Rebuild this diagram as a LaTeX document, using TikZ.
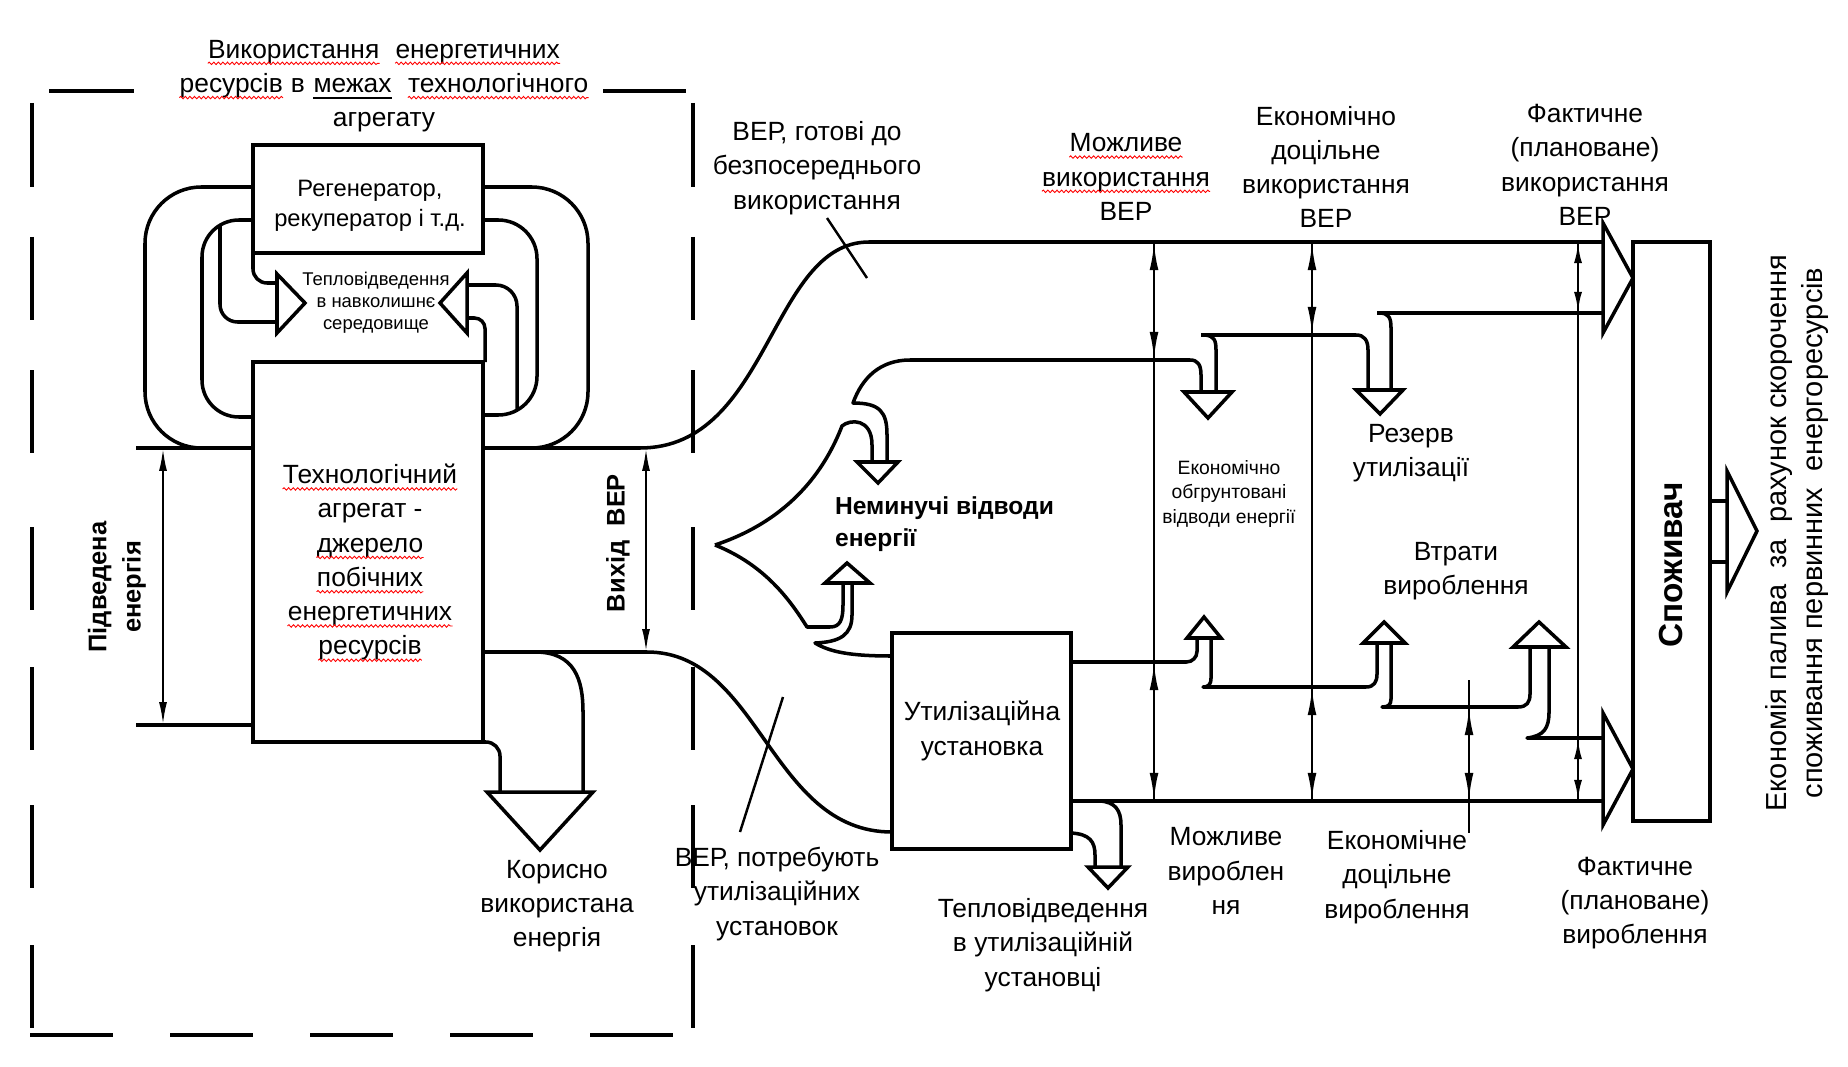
\documentclass[tikz,border=0pt]{standalone}
\usepackage{fontspec}
\setmainfont{Liberation Sans}
\usepackage{xcolor}
\usetikzlibrary{arrows.meta, positioning, decorations.pathmorphing}

\tikzset{
  plainword/.style={shape=rectangle, inner sep=0pt, minimum width=0pt, minimum height=0pt,
    draw=none, fill=none, rotate=0}
}
\newcommand\redwave[1]{\tikz[baseline=(wv.base)]{\node[plainword] (wv) {#1};
  \draw[red, line width=0.5pt, decorate, decoration={snake, amplitude=0.7pt, segment length=2.6pt}]
    ([yshift=-3pt]wv.base west) -- ([yshift=-3pt]wv.base east);}}
\newcommand\darkline[1]{\tikz[baseline=(dl.base)]{\node[plainword] (dl) {#1};
  \draw[line width=1.1pt] ([yshift=-3pt]dl.base west) -- ([yshift=-3pt]dl.base east);}}

\tikzset{
  pipe/.style={line width=2pt, line join=round},
  frameline/.style={line width=2.4pt},
  unitbox/.style={
    rectangle, draw, line width=2.2pt, fill=white,
    inner sep=0pt, align=center
  },
  headblock/.style={draw, line width=2pt, fill=white},
  measline/.style={line width=1.6pt},
  meas/.style={line width=1.6pt, {Latex[length=16pt,width=5pt]}-{Latex[length=16pt,width=5pt]}},
  measshort/.style={line width=1.6pt, {Latex[length=12pt,width=4.5pt]}-{Latex[length=12pt,width=4.5pt]}},
  lbl/.style={align=center, inner sep=1pt, font=\fontsize{15}{19.5}\selectfont},
  smalllbl/.style={align=center, inner sep=1pt, font=\fontsize{10.5}{12.5}\selectfont},
  boldlbl/.style={align=center, inner sep=1pt, font=\fontsize{14.5}{19.5}\selectfont\bfseries}
}

\begin{document}
\begin{tikzpicture}[x=0.02cm, y=-0.02cm]
  \useasboundingbox (0,0) rectangle (1848,1067);

  % boundary of the unit
  \foreach \ya/\yb in {103/187, 237/320, 370/453, 527/610, 667/750, 805/888, 945/1028} {
    \draw[frameline] (32,\ya) -- (32,\yb);
    \draw[frameline] (693,\ya) -- (693,\yb);
  }
  \foreach \xa/\xb in {30/113, 170/253, 310/393, 450/533, 590/673}
    \draw[frameline] (\xa,1035) -- (\xb,1035);
  \draw[frameline] (49,91) -- (134,91);
  \draw[frameline] (603,91) -- (686,91);
  \node[lbl] (title) at (384,86) {\redwave{Використання}\ \ \redwave{енергетичних}\\
    \redwave{ресурсів} в \darkline{межах}\ \ \redwave{технологічного}\\ агрегату};

  % loops round the regenerator
  \draw[pipe, rounded corners=32pt] (253,187) -- (145,187) -- (145,448) -- (253,448);
  \draw[pipe, rounded corners=21pt] (253,220) -- (202,220) -- (202,417) -- (253,417);
  \draw[pipe, rounded corners=32pt] (483,187) -- (588,187) -- (588,448) -- (483,448);
  \draw[pipe, rounded corners=22pt] (483,220) -- (537,220) -- (537,415) -- (483,415);

  \draw[pipe, rounded corners=8pt] (253,253) -- (253,283) -- (277,283);
  \draw[pipe, rounded corners=10pt] (220,226) -- (220,322) -- (277,322);
  \draw[headblock] (277,274) -- (305,303) -- (277,333) -- cycle;
  \draw[pipe, rounded corners=12pt] (517,409) -- (517,285) -- (467,285);
  \draw[pipe, rounded corners=6pt] (485,362) -- (485,318) -- (467,318);
  \draw[headblock] (467,273) -- (440,303) -- (467,333) -- cycle;
  \node[smalllbl] (ambient) at (376,303) {Тепловідведення\\в навколишнє\\середовище};

  \node[unitbox, minimum width=4.6cm, minimum height=2.16cm] (regen) at (368,199) {};
  \node[lbl, font=\fontsize{13.5}{17}\selectfont] (regentext) at (370,206) {Регенератор,\\рекуператор і т.д.};
  \node[unitbox, minimum width=4.6cm, minimum height=7.6cm] (techagg) at (368,552) {};
  \node[lbl] (techtext) at (370,563)
    {\redwave{Технологічний}\\агрегат -\\\redwave{джерело}\\\redwave{побічних}\\
     \redwave{енергетичних}\\\redwave{ресурсів}};

  % supplied energy
  \draw[pipe] (136,448) -- (253,448);
  \draw[pipe] (136,725) -- (253,725);
  \draw[line width=1.3pt, {Latex[length=13pt,width=4.5pt]}-{Latex[length=13pt,width=4.5pt]}] (163,448) -- (163,725);
  \node[boldlbl, rotate=90] (supplied) at (117,587) {Підведена\\енергія};

  % useful energy
  \draw[pipe, rounded corners=8pt] (483,742) -- (500,742) -- (500,792);
  \draw[pipe] (535,652) .. controls (575,652) and (583,680) .. (583,712) -- (583,792);
  \draw[headblock] (487,792) -- (593,792) -- (540,850) -- cycle;
  \node[lbl] (useful) at (557,906) {Корисно\\використана\\енергія};

  % output of secondary resources
  \draw[pipe] (483,448) -- (640,448) .. controls (770,448) and (770,242) .. (869,242) -- (1603,242);
  \draw[pipe] (483,652) -- (647,652) .. controls (760,652) and (770,832) .. (892,832);
  \draw[line width=1.3pt, {Latex[length=13pt,width=4.5pt]}-{Latex[length=13pt,width=4.5pt]}] (646,448) -- (646,652);
  \node[boldlbl, rotate=90] (output) at (618,543) {Вихід\ \ ВЕР};
  \draw[line width=1.4pt] (827,218) -- (867,278);
  \draw[line width=1.4pt] (783,697) -- (740,832);
  \node[lbl] (ready) at (817,168) {ВЕР, готові до\\безпосереднього\\використання};
  \node[lbl] (needutil) at (777,894) {ВЕР, потребують\\утилізаційних\\установок};

  % unavoidable losses
  \draw[pipe] (715,545) .. controls (790,520) and (825,470) .. (842,426)
    .. controls (850,419) and (872,418) .. (872,445) -- (872,462);
  \draw[pipe] (887,462) -- (887,435) .. controls (887,412) and (880,403) .. (853,403)
    .. controls (862,378) and (880,360) .. (910,360) -- (1190,360)
    .. controls (1198,360) and (1201,365) .. (1201,375) -- (1201,392);
  \draw[headblock] (857,462) -- (898,462) -- (878,483) -- cycle;
  \draw[pipe] (715,545) .. controls (765,565) and (790,600) .. (807,627) -- (830,627)
    .. controls (840,627) and (843,620) .. (843,605) -- (843,583);
  \draw[pipe] (852,583) -- (852,615) .. controls (852,635) and (840,642) .. (815,643)
    .. controls (830,652) and (850,656) .. (892,656);
  \draw[headblock] (825,583) -- (870,583) -- (847,563) -- cycle;
  \node[boldlbl, anchor=west, align=left, font=\fontsize{14}{18}\selectfont\bfseries] (unavoid) at (833,524)
    {Неминучі відводи\\енергії};

  \node[unitbox, minimum width=3.58cm, minimum height=4.32cm] (utilbox) at (981.5,741) {};
  \node[lbl] (utiltext) at (982,731) {Утилізаційна\\установка};

  % distribution of the recovered energy
  \draw[pipe] (1201,335) -- (1356,335) .. controls (1364,335) and (1368,340) .. (1368,350) -- (1368,390);
  \draw[pipe] (1205,335) .. controls (1214,336) and (1216,340) .. (1216,350) -- (1216,392);
  \draw[headblock] (1184,392) -- (1232,392) -- (1208,418) -- cycle;
  \draw[pipe] (1377,313) -- (1603,313);
  \draw[pipe] (1381,313) .. controls (1389,314) and (1391,318) .. (1391,328) -- (1391,390);
  \draw[headblock] (1356,390) -- (1403,390) -- (1380,414) -- cycle;

  \draw[pipe, rounded corners=6pt] (1071,662) -- (1197,662) -- (1197,638);
  \draw[pipe] (1211,638) -- (1211,678) .. controls (1211,685) and (1208,687) .. (1203,687) -- (1366,687)
    .. controls (1374,687) and (1377,682) .. (1377,674) -- (1377,643);
  \draw[headblock] (1187,638) -- (1221,638) -- (1204,617) -- cycle;
  \draw[pipe] (1391,643) -- (1391,699) .. controls (1391,705) and (1388,707) .. (1382,707) -- (1518,707)
    .. controls (1527,707) and (1530,702) .. (1530,694) -- (1530,647);
  \draw[headblock] (1363,643) -- (1405,643) -- (1384,622) -- cycle;
  \draw[pipe] (1549,647) -- (1549,712) .. controls (1549,728) and (1544,736) .. (1527,738) -- (1603,738);
  \draw[headblock] (1513,647) -- (1566,647) -- (1539,622) -- cycle;
  \draw[pipe] (1071,801) -- (1603,801);

  \draw[pipe] (1071,833) .. controls (1090,834) and (1095,842) .. (1095,855) -- (1095,867);
  \draw[pipe] (1100,801) .. controls (1115,802) and (1121,810) .. (1121,825) -- (1121,867);
  \draw[headblock] (1088,867) -- (1128,867) -- (1108,888) -- cycle;
  \node[lbl] (utilheat) at (1043,945) {Тепловідведення\\в утилізаційній\\установці};

  % measures
  \foreach \x/\ya/\yb in {1154/360/662, 1312/335/687} {
    \draw[measline] (\x,242) -- (\x,801);
    \draw[meas] (\x,242) -- (\x,\ya);
    \draw[meas] (\x,\yb) -- (\x,801);
  }
  \draw[measline] (1578,242) -- (1578,801);
  \draw[measshort] (1578,242) -- (1578,313);
  \draw[measshort] (1578,738) -- (1578,801);
  \draw[measline] (1469,680) -- (1469,833);
  \draw[meas] (1469,707) -- (1469,801);

  % consumer
  \draw[headblock] (1603,223) -- (1633,278) -- (1603,333) -- cycle;
  \draw[headblock] (1603,713) -- (1633,769) -- (1603,825) -- cycle;
  \node[unitbox, minimum width=1.54cm, minimum height=11.58cm] (consumer) at (1671.5,531.5) {};
  \node[rotate=90, font=\fontsize{19}{23}\selectfont\bfseries] (consumerlbl) at (1671,565) {Споживач};
  \draw[pipe] (1710,501) -- (1727,501);
  \draw[pipe] (1710,562) -- (1727,562);
  \draw[headblock] (1727,471) -- (1757,531) -- (1727,592) -- cycle;
  \node[lbl, rotate=90, font=\fontsize{16.5}{20.5}\selectfont] (saving) at (1797,533)
    {Економія палива\ \ за\ \ рахунок скорочення\\споживання первинних\ \ енергоресурсів};

  % labels
  \node[lbl] (possuse) at (1126,177) {\redwave{Можливе}\\\redwave{використання}\\ВЕР};
  \node[lbl] (ecouse) at (1326,167) {Економічно\\доцільне\\використання\\ВЕР};
  \node[lbl] (factuse) at (1585,165) {Фактичне\\(плановане)\\використання\\ВЕР};
  \node[smalllbl, font=\fontsize{11}{14}\selectfont] (ecoloss) at (1229,494) {Економічно\\обгрунтовані\\відводи енергії};
  \node[lbl] (reserve) at (1411,453) {Резерв\\утилізації};
  \node[lbl] (prodloss) at (1456,571) {Втрати\\вироблення};
  \node[lbl] (possprod) at (1226,871) {Можливе\\вироблен\\ня};
  \node[lbl] (ecoprod) at (1397,877) {Економічне\\доцільне\\вироблення};
  \node[lbl] (factprod) at (1635,903) {Фактичне\\(плановане)\\вироблення};
\end{tikzpicture}
\end{document}
